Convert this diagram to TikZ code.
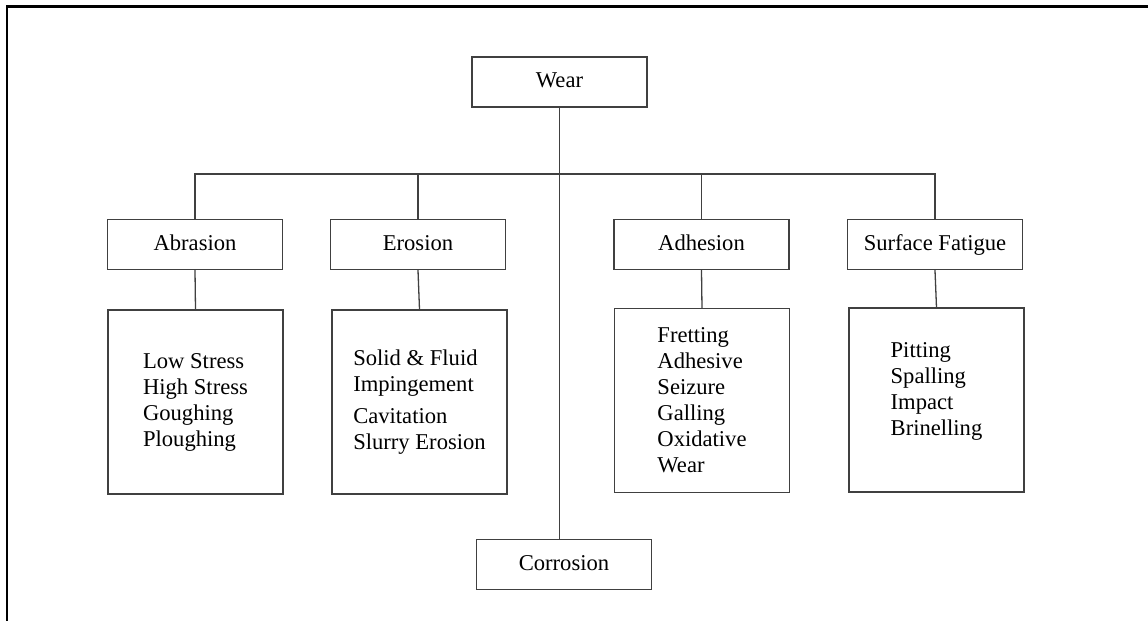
\documentclass[tikz,border=0pt]{standalone}
\usepackage{fontspec}
\setmainfont{Liberation Serif}
\usepackage{tikz}
\usetikzlibrary{positioning,calc}
\definecolor{boxline}{HTML}{404040}

\begin{document}
\begin{tikzpicture}[
  basebox/.style={draw=boxline,line width=0.65pt,minimum width=87.5pt,
              inner sep=0pt,font=\fontsize{11.3}{13}\selectfont},
  box/.style={basebox,minimum height=25pt,align=center,
              text height=8pt,text depth=2.5pt},
  listbox/.style={basebox,minimum height=92pt,align=left},
  link/.style={draw=boxline,line width=0.65pt},
  x=0.5pt, y=-0.5pt
]
\useasboundingbox (0,0) rectangle (1148,621);

%% frame (top and left edges only)
\draw[line width=1.1pt] (7,621) -- (7,6.5) -- (1148,6.5);

%% root and the four main kinds
\node[box] (wear)     at (559.5, 82)  {Wear};
\node[box] (abrasion) at (195,  244.5) {Abrasion};
\node[box] (erosion)  at (418,  244.5) {Erosion};
\node[box] (adhesion) at (701.5,244.5) {Adhesion};
\node[box] (fatigue)  at (935,  244.5) {Surface Fatigue};
\node[box] (corrosion) at (564, 564.5) {Corrosion};

%% lists under each kind
\node[listbox] (abrasionlist) at (195.5,402)
  {Low Stress\\High Stress\\Goughing\\Ploughing};
\node[listbox] (erosionlist)  at (419.5,402)
  {Solid \& Fluid\\Impingement\\[3pt]Cavitation\\Slurry Erosion};
\node[listbox] (adhesionlist) at (702,  400.5)
  {Fretting\\Adhesive\\Seizure\\Galling\\Oxidative\\Wear};
\node[listbox] (fatiguelist)  at (936.5,400)
  {Pitting\\Spalling\\Impact\\Brinelling\\[-2pt]};

%% branch bar
\coordinate (bar) at (559.5,174);
\draw[link] (abrasion.north) |- (bar) -| (fatigue.north);
\foreach \n in {erosion,adhesion}
  \draw[link] (\n.north) -- (\n.north |- bar);

%% Wear -> Corrosion (straight down through the bar)
\draw[link] (wear.south) -- (wear.south |- corrosion.north);

%% kinds -> lists
\foreach \n in {abrasion,erosion,adhesion,fatigue}
  \draw[link] (\n.south) -- (\n list.north);

\end{tikzpicture}
\end{document}
